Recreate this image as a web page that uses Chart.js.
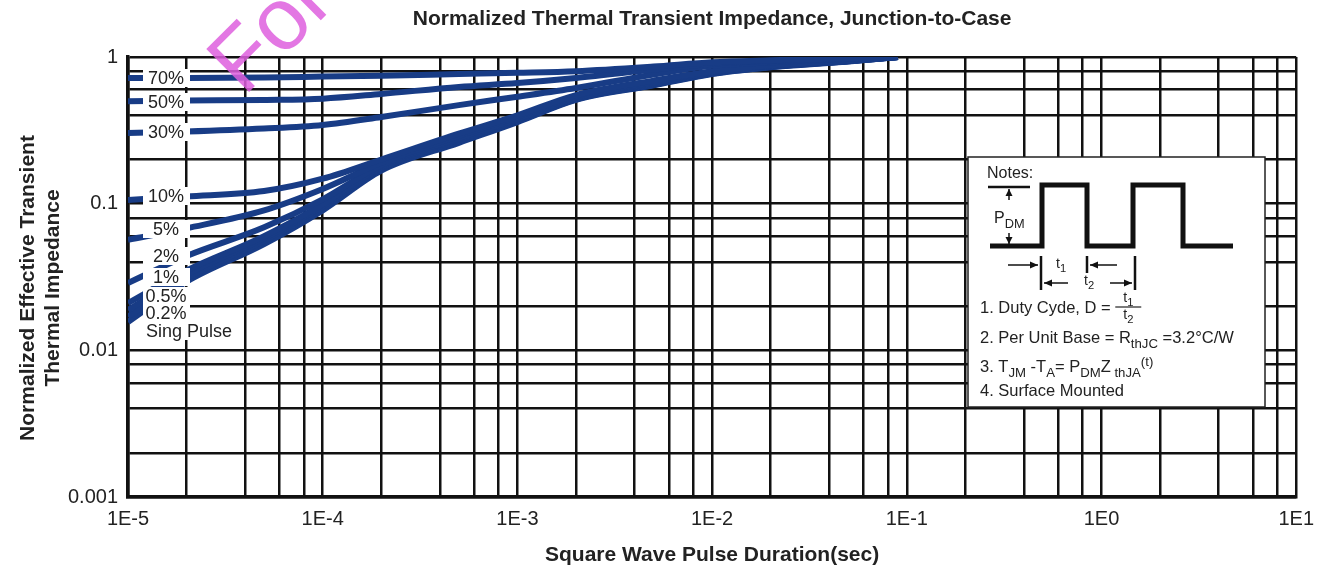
<!DOCTYPE html>
<html>
<head>
<meta charset="utf-8">
<title>Normalized Thermal Transient Impedance, Junction-to-Case</title>
<script src="https://cdn.jsdelivr.net/npm/chart.js@4.4.1/dist/chart.umd.min.js"></script>
<style>
  html, body { margin: 0; padding: 0; background: #fff; }
  #wrap { width: 1324px; height: 571px; }
</style>
</head>
<body>
<div id="wrap"><canvas id="zthChart" width="1324" height="571"></canvas></div>
<script>
var durations = [1e-5, 2e-5, 5e-5, 1e-4, 2e-4, 5e-4, 1e-3, 2e-3, 5e-3, 1e-2, 2e-2, 5e-2, 9e-2];

var seriesLabels = ["70%", "50%", "30%", "10%", "5%", "2%", "1%", "0.5%", "0.2%", "Sing Pulse"];

var duty70 = [0.72, 0.72, 0.725, 0.735, 0.745, 0.765, 0.78, 0.80, 0.86, 0.92, 0.95, 0.98, 1.0];
var duty50 = [0.50, 0.505, 0.51, 0.52, 0.56, 0.625, 0.665, 0.72, 0.82, 0.90, 0.94, 0.975, 1.0];
var duty30 = [0.303, 0.31, 0.325, 0.344, 0.39, 0.47, 0.536, 0.615, 0.76, 0.87, 0.92, 0.97, 1.0];
var duty10 = [0.106, 0.112, 0.122, 0.148, 0.20, 0.30, 0.40, 0.55, 0.69, 0.80, 0.88, 0.95, 1.0];
var duty5 = [0.0567, 0.068, 0.09, 0.126, 0.19, 0.29, 0.39, 0.54, 0.675, 0.79, 0.87, 0.945, 1.0];
var duty2 = [0.0288, 0.044, 0.069, 0.107, 0.183, 0.28, 0.38, 0.53, 0.665, 0.785, 0.865, 0.94, 1.0];
var duty1 = [0.021, 0.035, 0.06, 0.099, 0.178, 0.275, 0.375, 0.525, 0.655, 0.78, 0.86, 0.94, 1.0];
var duty05 = [0.0188, 0.033, 0.058, 0.096, 0.175, 0.27, 0.37, 0.52, 0.65, 0.775, 0.86, 0.935, 1.0];
var duty02 = [0.017, 0.031, 0.056, 0.093, 0.172, 0.265, 0.365, 0.515, 0.645, 0.77, 0.855, 0.935, 1.0];
var singlePulse = [0.0156, 0.0294, 0.053, 0.09, 0.168, 0.26, 0.36, 0.51, 0.64, 0.765, 0.85, 0.93, 1.0];

var xTickLabels = ["1E-5", "1E-4", "1E-3", "1E-2", "1E-1", "1E0", "1E1"];
var yTickLabels = ["0.001", "0.01", "0.1", "1"];
var gridSteps = [1, 2, 4, 6, 8];

var allSeries = [duty70, duty50, duty30, duty10, duty5, duty2, duty1, duty05, duty02, singlePulse];

var FONT = "'Liberation Sans', Arial, Helvetica, sans-serif";
var INK = "#222";
var CURVE = "#183c86";

function logTicks(fromExp, toExp) {
  var out = [];
  for (var e = fromExp; e < toExp; e++) {
    for (var k = 0; k < gridSteps.length; k++) {
      out.push(gridSteps[k] * Math.pow(10, e));
    }
  }
  out.push(Math.pow(10, toExp));
  return out;
}

function decadeLabel(v, labels, firstExp) {
  var e = Math.round(Math.log10(v));
  if (Math.abs(v / Math.pow(10, e) - 1) > 1e-6) return "";
  return labels[e - firstExp];
}

var datasets = [];
for (var i = 0; i < allSeries.length; i++) {
  datasets.push({
    label: seriesLabels[i],
    data: durations.map(function (t, j) { return { x: t, y: allSeries[i][j] }; }),
    borderColor: CURVE,
    backgroundColor: CURVE,
    borderWidth: 6,
    pointRadius: 0,
    fill: false,
    cubicInterpolationMode: "monotone"
  });
}

// text with sub/superscripts, mode 0 normal, 1 sub, 2 sup
function richText(ctx, parts, x, y, size) {
  for (var i = 0; i < parts.length; i++) {
    var p = parts[i];
    var fs = p[1] ? size * 0.8 : size;
    var dy = p[1] === 1 ? size * 0.3 : (p[1] === 2 ? -size * 0.35 : 0);
    ctx.font = fs + "px " + FONT;
    ctx.fillText(p[0], x, y + dy);
    x += ctx.measureText(p[0]).width;
  }
  return x;
}

function hArrow(ctx, x1, y, x2) {
  ctx.beginPath(); ctx.moveTo(x1, y); ctx.lineTo(x2, y); ctx.stroke();
  var d = x2 > x1 ? -1 : 1;
  ctx.beginPath();
  ctx.moveTo(x2, y); ctx.lineTo(x2 + d * 8, y - 3.5); ctx.lineTo(x2 + d * 8, y + 3.5);
  ctx.closePath(); ctx.fill();
}

function vArrow(ctx, x, y1, y2) {
  ctx.beginPath(); ctx.moveTo(x, y1); ctx.lineTo(x, y2); ctx.stroke();
  var d = y2 > y1 ? -1 : 1;
  ctx.beginPath();
  ctx.moveTo(x, y2); ctx.lineTo(x - 3.5, y2 + d * 7); ctx.lineTo(x + 3.5, y2 + d * 7);
  ctx.closePath(); ctx.fill();
}

var decorations = {
  id: "decorations",
  afterDatasetsDraw: function (chart) {
    var ctx = chart.ctx;
    ctx.save();

    // curve labels with white backing
    var rows = [78, 102, 132, 196, 229, 256, 277, 296, 313, 331];
    ctx.font = "18px " + FONT;
    ctx.textBaseline = "middle";
    for (var i = 0; i < seriesLabels.length; i++) {
      var y = rows[i];
      var wide = seriesLabels[i].length > 5;
      ctx.fillStyle = "#fff";
      ctx.fillRect(143, y - 9, wide ? 96 : 47, 18);
      ctx.fillStyle = INK;
      if (wide) {
        ctx.textAlign = "left";
        ctx.fillText(seriesLabels[i], 146, y + 1);
      } else {
        ctx.textAlign = "center";
        ctx.fillText(seriesLabels[i], 166, y + 1);
      }
    }

    // notes box
    var bx = 968, by = 157, bw = 297, bh = 250;
    ctx.fillStyle = "#fff";
    ctx.fillRect(bx, by, bw, bh);
    ctx.strokeStyle = "#222";
    ctx.lineWidth = 1.5;
    ctx.strokeRect(bx, by, bw, bh);

    ctx.fillStyle = INK;
    ctx.textAlign = "left";
    ctx.textBaseline = "alphabetic";
    ctx.font = "16px " + FONT;
    ctx.fillText("Notes:", 987, 178);

    // pulse train
    ctx.strokeStyle = "#111";
    ctx.lineWidth = 5;
    ctx.lineJoin = "miter";
    ctx.beginPath();
    ctx.moveTo(990, 246); ctx.lineTo(1042, 246); ctx.lineTo(1042, 185); ctx.lineTo(1087, 185);
    ctx.lineTo(1087, 246); ctx.lineTo(1133, 246); ctx.lineTo(1133, 185); ctx.lineTo(1183, 185);
    ctx.lineTo(1183, 246); ctx.lineTo(1233, 246);
    ctx.stroke();

    ctx.lineWidth = 2.5;
    ctx.fillStyle = "#111";
    ctx.beginPath(); ctx.moveTo(988, 187); ctx.lineTo(1030, 187); ctx.stroke();
    ctx.lineWidth = 1.5;
    vArrow(ctx, 1009, 200, 189);
    vArrow(ctx, 1009, 233, 244);
    ctx.fillStyle = INK;
    richText(ctx, [["P", 0], ["DM", 1]], 994, 223, 16);

    // t1 / t2 markers
    ctx.fillStyle = "#111";
    ctx.lineWidth = 1.5;
    hArrow(ctx, 1008, 265, 1038);
    hArrow(ctx, 1117, 265, 1090);
    hArrow(ctx, 1068, 283, 1044);
    hArrow(ctx, 1110, 283, 1132);
    ctx.lineWidth = 2.5;
    ctx.beginPath();
    ctx.moveTo(1041, 256); ctx.lineTo(1041, 290);
    ctx.moveTo(1087, 256); ctx.lineTo(1087, 273);
    ctx.moveTo(1135, 256); ctx.lineTo(1135, 290);
    ctx.stroke();
    ctx.fillStyle = INK;
    richText(ctx, [["t", 0], ["1", 1]], 1056, 268, 14);
    richText(ctx, [["t", 0], ["2", 1]], 1084, 285, 14);

    // numbered notes
    var end = richText(ctx, [["1. Duty Cyde, D = ", 0]], 980, 313, 16.5);
    ctx.lineWidth = 1.2;
    ctx.strokeStyle = INK;
    ctx.beginPath(); ctx.moveTo(end, 307); ctx.lineTo(end + 26, 307); ctx.stroke();
    richText(ctx, [["t", 0], ["1", 1]], end + 8, 302, 14);
    richText(ctx, [["t", 0], ["2", 1]], end + 8, 319, 14);

    richText(ctx, [["2. Per Unit Base = R", 0], ["thJC", 1], [" =3.2\u00b0C/W", 0]], 980, 343, 16.5);
    richText(ctx, [["3. T", 0], ["JM", 1], [" -T", 0], ["A", 1], ["= P", 0], ["DM", 1], ["Z", 0], [" thJA", 1], ["(t)", 2]], 980, 372, 16.5);
    richText(ctx, [["4. Surface Mounted", 0]], 980, 396, 16.5);

    ctx.restore();
  },
  afterDraw: function (chart) {
    var ctx = chart.ctx;
    var area = chart.chartArea;
    ctx.save();
    ctx.fillStyle = INK;
    ctx.textAlign = "center";
    ctx.textBaseline = "middle";
    // main title over the plot area
    ctx.font = "bold 21px " + FONT;
    ctx.fillText("Normalized Thermal Transient Impedance, Junction-to-Case", (area.left + area.right) / 2, 19);
    // y axis title, two lines
    ctx.font = "bold 21px " + FONT;
    ctx.translate(28, 288);
    ctx.rotate(-Math.PI / 2);
    ctx.fillText("Normalized Effective Transient", 0, 0);
    ctx.fillText("Thermal Impedance", 0, 25);
    ctx.restore();

    // watermark
    ctx.save();
    ctx.fillStyle = "rgba(222, 95, 222, 0.85)";
    ctx.font = "88px " + FONT;
    ctx.translate(244, 97);
    ctx.rotate(-Math.PI / 4);
    ctx.fillText("For", 0, 0);
    ctx.restore();
  }
};

new Chart(document.getElementById("zthChart"), {
  type: "line",
  data: { datasets: datasets },
  plugins: [decorations],
  options: {
    responsive: false,
    animation: false,
    devicePixelRatio: 1,
    layout: { padding: { left: 0, right: 24, top: 57, bottom: 0 } },
    plugins: {
      legend: { display: false },
      tooltip: { enabled: false },
      title: { display: false }
    },
    scales: {
      x: {
        type: "logarithmic",
        min: 1e-5,
        max: 10,
        afterBuildTicks: function (scale) {
          scale.ticks = logTicks(-5, 1).map(function (v) { return { value: v }; });
        },
        afterFit: function (scale) { scale.height = 74; },
        ticks: {
          autoSkip: false,
          maxRotation: 0,
          minRotation: 0,
          padding: 10,
          color: INK,
          font: { family: FONT, size: 20 },
          callback: function (v) { return decadeLabel(v, xTickLabels, -5); }
        },
        grid: { color: "#111", lineWidth: 2.5, drawTicks: false },
        border: { color: "#111", width: 3.5 },
        title: {
          display: true,
          text: "Square Wave Pulse Duration(sec)",
          color: INK,
          font: { family: FONT, size: 21, weight: "bold", lineHeight: 1.2 },
          padding: { top: 0, bottom: 3 }
        }
      },
      y: {
        type: "logarithmic",
        min: 0.001,
        max: 1,
        afterBuildTicks: function (scale) {
          scale.ticks = logTicks(-3, 0).map(function (v) { return { value: v }; });
        },
        afterFit: function (scale) { scale.width = 128; },
        ticks: {
          autoSkip: false,
          padding: 10,
          color: INK,
          font: { family: FONT, size: 20 },
          callback: function (v) { return decadeLabel(v, yTickLabels, -3); }
        },
        grid: { color: "#111", lineWidth: 2.5, drawTicks: false },
        border: { color: "#111", width: 3.5 }
      }
    }
  }
});
</script>
</body>
</html>
